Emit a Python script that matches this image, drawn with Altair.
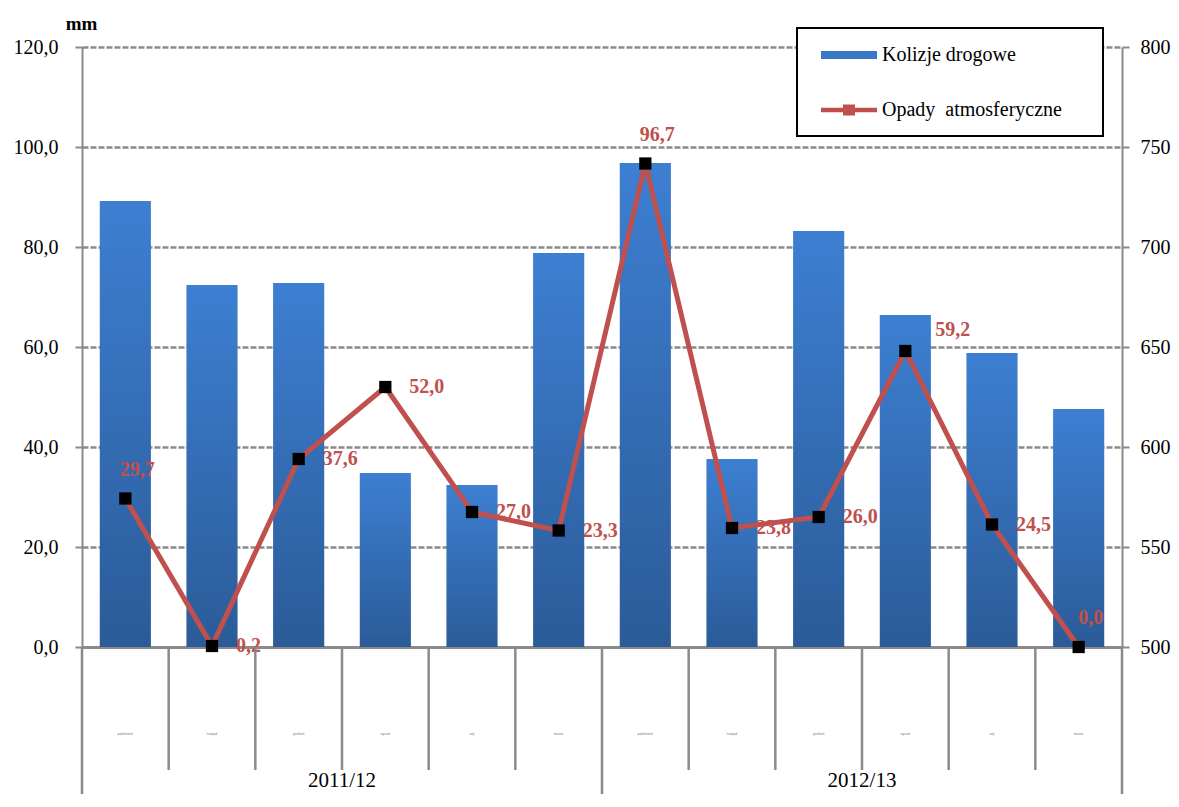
import altair as alt
import pandas as pd

# ---------------- data ----------------
seasons = ["2011/12", "2012/13"]
months = ["październik", "listopad", "grudzień", "styczeń", "luty", "marzec"]
collisions = [723, 681, 682, 587, 581, 697, 742, 594, 708, 666, 647, 619]
precip = [29.7, 0.2, 37.6, 52.0, 27.0, 23.3, 96.7, 23.8, 26.0, 59.2, 24.5, 0.0]
label_place = ["above", "right", "right", "right", "right", "right",
               "above", "right", "right", "upright", "right", "above"]
series_names = ["Kolizje drogowe", "Opady\u00a0 atmosferyczne"]
left_ticks = [0, 20, 40, 60, 80, 100, 120]
right_ticks = [500, 550, 600, 650, 700, 750, 800]

keys = [f"{s}|{m}" for s in seasons for m in months]
df = pd.DataFrame({
    "key": keys,
    "season": [s for s in seasons for _ in months],
    "midx": [i for _ in seasons for i in range(len(months))],
    "collisions": collisions,
    "precip": precip,
    "place": label_place,
    "label": [f"{v:.1f}".replace(".", ",") for v in precip],
})
df_years = pd.DataFrame({"season": seasons,
                         "key": [keys[2], keys[len(months) + 2]]})
df_legend = pd.DataFrame({"series": series_names})

# ---------------- styles ----------------
FONT = "Liberation Serif"
GRAY = "#8a8a8a"
RED = "#C0504D"
W, H = 1040, 600
BOTTOM = 147

x_scale = alt.Scale(domain=keys, paddingInner=0, paddingOuter=0)
x_axis = alt.Axis(labelExpr="split(datum.label, '|')[1]", labelFontSize=3,
                  labelColor="#777", labelPadding=85, labelAngle=0,
                  labelOverlap=False, ticks=False, domainColor=GRAY,
                  domainWidth=3, grid=False, title=None)


def xenc(band=None):
    if band is None:
        return alt.X("key:N", scale=x_scale, axis=x_axis, title=None)
    return alt.X("key:N", scale=x_scale, axis=x_axis, title=None, bandPosition=band)


bar_fill = alt.LinearGradient(
    gradient="linear",
    stops=[alt.GradientStop(color="#3D7FD2", offset=0),
           alt.GradientStop(color="#2B5B98", offset=1)],
    x1=0, x2=0, y1=0, y2=1,
)

bars = alt.Chart(df).mark_bar(fill=bar_fill, width=alt.RelativeBandSize(0.59)).encode(
    x=xenc(),
    y=alt.Y("collisions:Q", scale=alt.Scale(domain=[500, 800], zero=False, nice=False),
            title=None,
            axis=alt.Axis(orient="right", values=right_ticks, format="d", grid=False,
                          domainColor=GRAY, domainWidth=2, tickColor=GRAY, tickWidth=2,
                          tickSize=7, labelPadding=11, labelFont=FONT, labelFontSize=20,
                          labelColor="black", title=None)),
    y2=alt.Y2Datum(500),
)

y_axis_left = alt.Axis(orient="left", values=left_ticks,
                       labelExpr="replace(format(datum.value, '.1f'), '.', ',')",
                       grid=True, gridDash=[6, 2], gridColor=GRAY, gridWidth=2.5,
                       domainColor=GRAY, domainWidth=2, tickColor=GRAY, tickWidth=2,
                       tickSize=7, labelPadding=17, labelFont=FONT, labelFontSize=20,
                       labelColor="black", title="mm", titleAngle=0, titleX=-1,
                       titleY=-24, titleAlign="center", titleBaseline="middle",
                       titleFont=FONT, titleFontSize=19, titleFontWeight="bold",
                       titleColor="black")
y_left = alt.Y("precip:Q", scale=alt.Scale(domain=[0, 120], nice=False),
               title="mm", axis=y_axis_left)

line = alt.Chart(df).mark_line(color=RED, strokeWidth=5).encode(x=xenc(), y=y_left)
points = alt.Chart(df).mark_point(shape="square", filled=True, color="black",
                                  size=150, opacity=1).encode(x=xenc(), y=y_left)

lbl_common = dict(font=FONT, fontSize=20, fontWeight="bold", color=RED, baseline="middle")
lbl_right = alt.Chart(df).transform_filter("datum.place == 'right'").mark_text(
    align="left", dx=24, dy=0, **lbl_common).encode(x=xenc(), y=y_left, text="label:N")
lbl_upright = alt.Chart(df).transform_filter("datum.place == 'upright'").mark_text(
    align="left", dx=30, dy=-21, **lbl_common).encode(x=xenc(), y=y_left, text="label:N")
lbl_above = alt.Chart(df).transform_filter("datum.place == 'above'").mark_text(
    align="center", dx=12, dy=-29, **lbl_common).encode(x=xenc(), y=y_left, text="label:N")

path_bar = "M-1.12,-0.16L1.12,-0.16L1.12,0.16L-1.12,0.16Z"
path_line = ("M-1.12,-0.09L1.12,-0.09L1.12,0.09L-1.12,0.09Z "
             "M-0.24,-0.22L0.24,-0.22L0.24,0.22L-0.24,0.22Z")
legend_def = alt.Legend(orient="none", legendX=715, legendY=-19,
                        title="0" * 67, titleOrient="bottom", titleColor="white",
                        titleFont=FONT, titleFontSize=9, titlePadding=5,
                        titleAnchor="start", titleLimit=600,
                        fillColor="white", strokeColor="black", padding=2,
                        rowPadding=20, symbolSize=2500, symbolOffset=25,
                        symbolStrokeWidth=0, symbolOpacity=1, labelOffset=8,
                        labelFont=FONT, labelFontSize=20, labelColor="black",
                        labelLimit=400)
legend_layer = alt.Chart(df_legend).transform_filter("false").mark_point(
    filled=True, opacity=1).encode(
    color=alt.Color("series:N", scale=alt.Scale(domain=series_names,
                                                range=["#3A78C6", RED]),
                    legend=legend_def),
    shape=alt.Shape("series:N", scale=alt.Scale(domain=series_names,
                                                range=[path_bar, path_line]),
                    legend=legend_def),
)

inner = alt.layer(line, points, lbl_right, lbl_upright, lbl_above)

sep_short = alt.Chart(df).transform_filter("datum.midx > 0").mark_rule(
    color=GRAY, strokeWidth=2.5).encode(
    x=xenc(0), y=alt.value(H), y2=alt.value(H + 123))
sep_long = alt.Chart(df).transform_filter("datum.midx == 0").mark_rule(
    color=GRAY, strokeWidth=2.5).encode(
    x=xenc(0), y=alt.value(H), y2=alt.value(H + BOTTOM))
sep_end = alt.Chart(df).transform_filter(f"datum.key == '{keys[-1]}'").mark_rule(
    color=GRAY, strokeWidth=2.5).encode(
    x=xenc(1), y=alt.value(H), y2=alt.value(H + BOTTOM))
years = alt.Chart(df_years).mark_text(font=FONT, fontSize=21, color="black",
                                      baseline="alphabetic", align="center").encode(
    x=xenc(1), y=alt.value(H + 140), text="season:N")

chart = alt.layer(bars, inner, sep_short, sep_long, sep_end, years,
                  legend_layer).resolve_scale(
    y="independent"
).properties(
    width=W, height=H,
    padding={"left": 74, "top": 39, "right": 49, "bottom": BOTTOM},
    autosize=alt.AutoSizeParams(type="none"),
    background="white",
).configure_view(stroke=None).configure_legend(strokeWidth=2)

chart.save("out.html", embed_options={"renderer": "svg", "actions": False})
